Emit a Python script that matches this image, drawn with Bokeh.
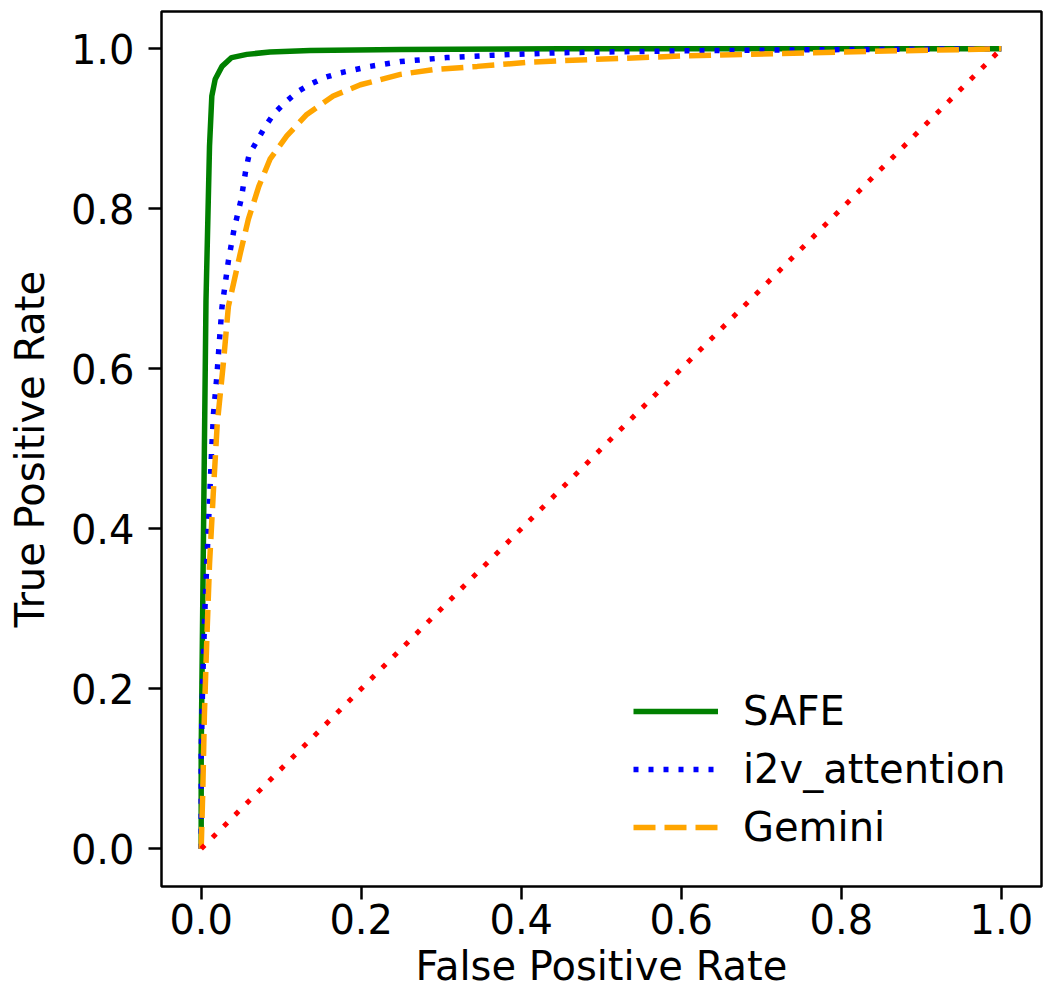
from bokeh.plotting import figure
from bokeh.models import Range1d, Legend, LegendItem, FixedTicker, PrintfTickFormatter
from bokeh.embed import file_html
from bokeh.resources import INLINE

# ---- data ----
safe_fpr = [0.0, 0.0, 0.002, 0.004, 0.006, 0.0104, 0.0133, 0.0175, 0.026, 0.038, 0.057, 0.086, 0.136, 0.25, 0.45, 0.7, 1.0]
safe_tpr = [0.0, 0.12, 0.31, 0.5, 0.685, 0.878, 0.941, 0.962, 0.978, 0.989, 0.993, 0.996, 0.998, 0.999, 1.0, 1.0, 1.0]

i2v_fpr = [0.0, 0.0, 0.0, 0.002, 0.005, 0.009, 0.013, 0.0154, 0.0196, 0.023, 0.026, 0.034, 0.041, 0.050, 0.056,
           0.060, 0.071, 0.080, 0.091, 0.105, 0.120, 0.137, 0.154, 0.174, 0.211, 0.249, 0.307, 0.365, 0.446, 0.6, 0.8, 1.0]
i2v_tpr = [0.0, 0.031, 0.12, 0.214, 0.309, 0.403, 0.497, 0.544, 0.591, 0.638, 0.677, 0.735, 0.774, 0.812, 0.850,
           0.868, 0.887, 0.903, 0.919, 0.933, 0.946, 0.956, 0.964, 0.970, 0.978, 0.984, 0.989, 0.992, 0.995, 0.9975, 0.999, 1.0]

gem_fpr = [0.0, 0.002, 0.004, 0.007, 0.0104, 0.0154, 0.020, 0.028, 0.034, 0.049, 0.059, 0.072, 0.086, 0.107,
           0.132, 0.165, 0.199, 0.249, 0.290, 0.345, 0.407, 0.449, 0.6, 0.8, 1.0]
gem_tpr = [0.0, 0.073, 0.1675, 0.261, 0.3555, 0.45, 0.53, 0.61, 0.678, 0.745, 0.787, 0.828, 0.862, 0.891,
           0.918, 0.941, 0.955, 0.968, 0.974, 0.978, 0.983, 0.985, 0.991, 0.996, 1.0]

chance_fpr = [0.0, 1.0]
chance_tpr = [0.0, 1.0]

tick_values = [0.0, 0.2, 0.4, 0.6, 0.8, 1.0]
series_names = ["SAFE", "i2v_attention", "Gemini"]

FONT = "DejaVu Sans"
FS = "40px"

p = figure(frame_width=880, frame_height=875,
           x_range=Range1d(-0.0496, 1.0502), y_range=Range1d(-0.0471, 1.0466),
           output_backend="svg", toolbar_location=None,
           min_border_left=161, min_border_top=11, min_border_right=2, min_border_bottom=117)

p.background_fill_color = "white"
p.border_fill_color = "white"
p.outline_line_color = "black"
p.outline_line_width = 2.5
p.xgrid.visible = False
p.ygrid.visible = False

r_safe = p.line(safe_fpr, safe_tpr, line_color="green", line_width=5.5)
r_i2v = p.line(i2v_fpr, i2v_tpr, line_color="blue", line_width=5.5, line_dash="5 10")
r_gem = p.line(gem_fpr, gem_tpr, line_color="orange", line_width=5.5, line_dash="22 9")
p.line(chance_fpr, chance_tpr, line_color="red", line_width=5, line_dash="5 11")

for ax in (p.xaxis[0], p.yaxis[0]):
    ax.ticker = FixedTicker(ticks=tick_values)
    ax.formatter = PrintfTickFormatter(format="%.1f")
    ax.axis_line_color = None
    ax.major_tick_line_color = "black"
    ax.major_tick_line_width = 2.5
    ax.major_tick_out = 13
    ax.major_tick_in = 0
    ax.minor_tick_line_color = None
    ax.major_label_text_font = FONT
    ax.major_label_text_font_size = FS
    ax.major_label_text_color = "black"
    ax.axis_label_text_font = FONT
    ax.axis_label_text_font_size = FS
    ax.axis_label_text_font_style = "normal"
    ax.axis_label_text_color = "black"

p.xaxis[0].axis_label = "False Positive Rate"
p.yaxis[0].axis_label = "True Positive Rate"
p.xaxis[0].major_label_standoff = 4
p.yaxis[0].major_label_standoff = 14
p.xaxis[0].axis_label_standoff = 6
p.yaxis[0].axis_label_standoff = 15

legend = Legend(items=[LegendItem(label=series_names[0], renderers=[r_safe]),
                       LegendItem(label=series_names[1], renderers=[r_i2v]),
                       LegendItem(label=series_names[2], renderers=[r_gem])],
                location=(472, 36))
legend.border_line_color = None
legend.background_fill_alpha = 0
legend.padding = 0
legend.margin = 0
legend.spacing = 12
legend.glyph_width = 85
legend.glyph_height = 40
legend.label_height = 40
legend.label_standoff = 25
legend.label_text_font = FONT
legend.label_text_font_size = FS
legend.label_text_color = "black"
p.add_layout(legend)

open("out.html", "w").write(file_html(p, INLINE))
